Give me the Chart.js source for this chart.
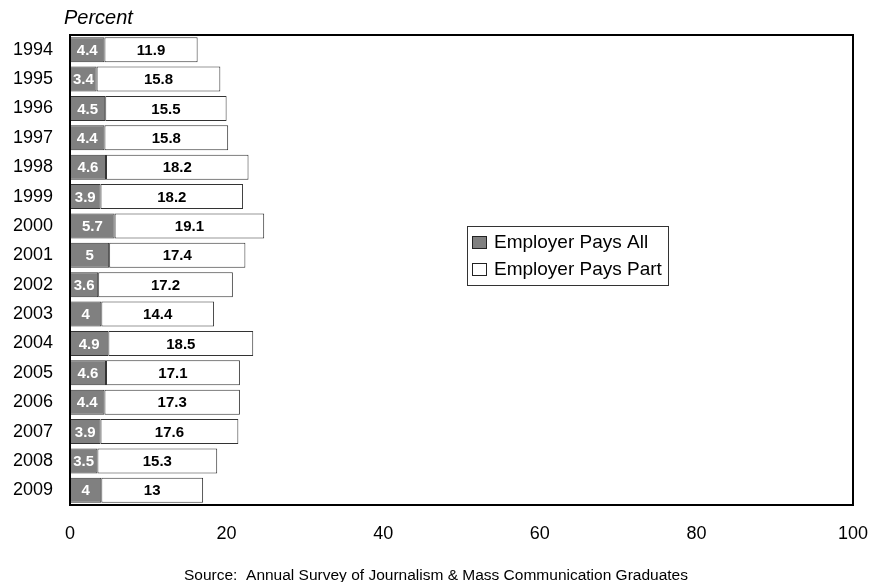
<!DOCTYPE html>
<html>
<head>
<meta charset="utf-8">
<script src="https://cdn.jsdelivr.net/npm/chart.js@4"></script>
<style>
  html, body { margin: 0; padding: 0; background: #fff; }
  #wrap { width: 873px; height: 582px; position: relative; }
</style>
</head>
<body>
<div id="wrap"><canvas id="chart" width="873" height="582"></canvas></div>
<script>
var years = ['1994', '1995', '1996', '1997', '1998', '1999', '2000', '2001',
             '2002', '2003', '2004', '2005', '2006', '2007', '2008', '2009'];
var paysAll  = [4.4, 3.4, 4.5, 4.4, 4.6, 3.9, 5.7, 5, 3.6, 4, 4.9, 4.6, 4.4, 3.9, 3.5, 4];
var paysPart = [11.9, 15.8, 15.5, 15.8, 18.2, 18.2, 19.1, 17.4, 17.2, 14.4, 18.5, 17.1, 17.3, 17.6, 15.3, 13];
var xTicks = [0, 20, 40, 60, 80, 100];

var FONT = "'Liberation Sans', Arial, sans-serif";

// value labels inside each bar segment
var barLabels = {
  id: 'barLabels',
  afterDatasetsDraw: function (chart) {
    var ctx = chart.ctx;
    ctx.save();
    ctx.font = 'bold 15px ' + FONT;
    ctx.textAlign = 'center';
    ctx.textBaseline = 'middle';
    chart.data.datasets.forEach(function (ds, di) {
      chart.getDatasetMeta(di).data.forEach(function (bar, i) {
        var cx = (bar.x + bar.base) / 2;
        ctx.fillStyle = di === 0 ? '#ffffff' : '#000000';
        ctx.fillText(String(ds.data[i]), cx, bar.y + 1);
      });
    });
    ctx.restore();
  }
};

// box round the plot, legend in the middle, extra texts
var frame = {
  id: 'frame',
  afterDraw: function (chart) {
    var ctx = chart.ctx, a = chart.chartArea;
    ctx.save();
    ctx.strokeStyle = '#000';
    ctx.lineWidth = 2;
    ctx.strokeRect(a.left, a.top, a.right - a.left, a.bottom - a.top);

    // legend
    var lx = 467, ly = 226, lw = 201, lh = 59;
    ctx.lineWidth = 1;
    ctx.strokeStyle = '#333';
    ctx.fillStyle = '#fff';
    ctx.fillRect(lx + 0.5, ly + 0.5, lw, lh);
    ctx.strokeRect(lx + 0.5, ly + 0.5, lw, lh);
    ctx.font = '19px ' + FONT;
    ctx.textBaseline = 'middle';
    chart.data.datasets.forEach(function (ds, i) {
      var yy = ly + 16 + i * 27;
      ctx.fillStyle = ds.backgroundColor;
      ctx.fillRect(lx + 5.5, yy - 5.5, 14, 12);
      ctx.strokeStyle = '#222';
      ctx.strokeRect(lx + 5.5, yy - 5.5, 14, 12);
      ctx.fillStyle = '#000';
      ctx.textAlign = 'left';
      ctx.fillText(ds.label, lx + 27, yy + 1);
    });

    ctx.fillStyle = '#000';
    ctx.font = 'italic 20px ' + FONT;
    ctx.textAlign = 'left';
    ctx.textBaseline = 'alphabetic';
    ctx.fillText('Percent', 64, 24);

    ctx.font = '15.5px ' + FONT;
    ctx.textAlign = 'center';
    ctx.fillText('Source:  Annual Survey of Journalism & Mass Communication Graduates', 436, 580);
    ctx.restore();
  }
};

new Chart(document.getElementById('chart').getContext('2d'), {
  type: 'bar',
  data: {
    labels: years,
    datasets: [
      { label: 'Employer Pays All', data: paysAll, backgroundColor: '#808080',
        borderColor: '#333', borderWidth: 1, borderSkipped: false,
        barPercentage: 0.85, categoryPercentage: 1 },
      { label: 'Employer Pays Part', data: paysPart, backgroundColor: '#ffffff',
        borderColor: '#333', borderWidth: 1, borderSkipped: false,
        barPercentage: 0.85, categoryPercentage: 1 }
    ]
  },
  options: {
    indexAxis: 'y',
    responsive: false,
    animation: false,
    layout: { padding: { top: 35, right: 20, left: 0, bottom: 0 } },
    plugins: { legend: { display: false }, tooltip: { enabled: false } },
    scales: {
      x: {
        stacked: true, min: 0, max: 100,
        afterBuildTicks: function (s) { s.ticks = xTicks.map(function (v) { return { value: v }; }); },
        afterFit: function (s) { s.height = 77; s.paddingLeft = 0; s.paddingRight = 0; },
        grid: { display: false, drawTicks: false },
        border: { display: false },
        ticks: { padding: 18, color: '#000', font: { family: FONT, size: 18 } }
      },
      y: {
        stacked: true,
        afterFit: function (s) { s.width = 70; s.paddingTop = 0; s.paddingBottom = 0; },
        grid: { display: false, drawTicks: false },
        border: { display: false },
        ticks: { padding: 17, color: '#000', font: { family: FONT, size: 18 } }
      }
    }
  },
  plugins: [barLabels, frame]
});
</script>
</body>
</html>
